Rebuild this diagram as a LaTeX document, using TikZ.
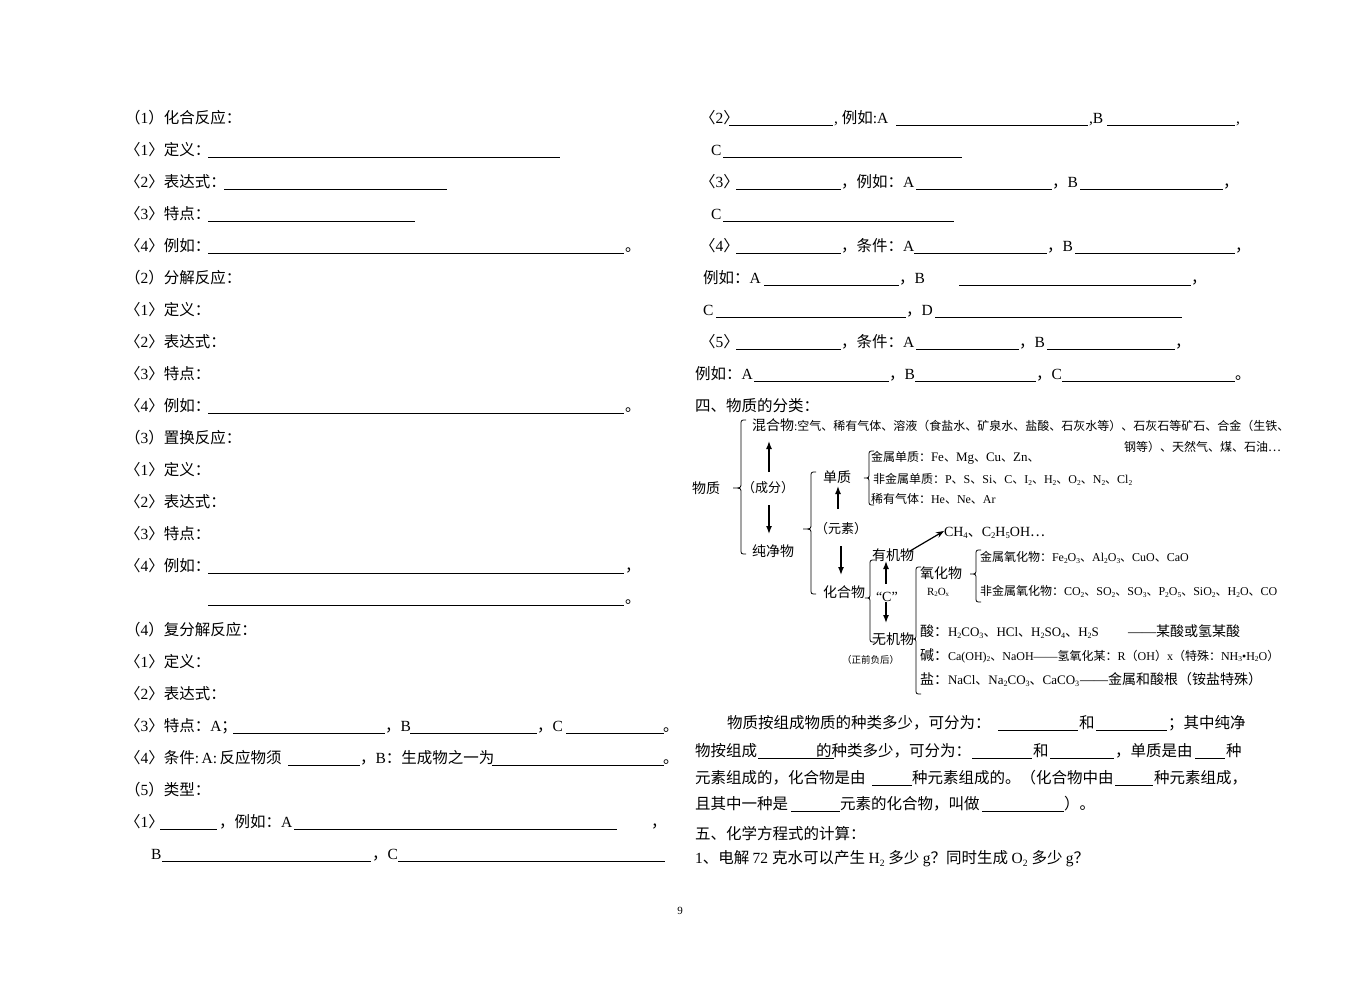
\documentclass[tikz,border=0pt]{standalone}
\usepackage{fontspec}
\usepackage{graphicx}
\setmainfont{Liberation Serif}
\newfontfamily\cjk{Noto Sans CJK SC}
\usetikzlibrary{arrows.meta}
\XeTeXinterchartokenstate=1
\newXeTeXintercharclass\CJKcls
\newcount\mycc
\def\setcls#1#2{\mycc=#1\relax\loop\XeTeXcharclass\mycc=\CJKcls\relax\advance\mycc by 1\relax\ifnum\mycc<#2\relax\repeat}
\setcls{"4E00}{"A000}
\setcls{"3000}{"3040}
\setcls{"FF00}{"FFF0}
\XeTeXcharclass"2026=\CJKcls
\XeTeXinterchartoks 0 \CJKcls = {\cjk}
\XeTeXinterchartoks 4095 \CJKcls = {\cjk}
\XeTeXinterchartoks \CJKcls 0 = {\rmfamily}
\XeTeXinterchartoks 4095 0 = {\rmfamily}
\newcommand\fsz[1]{\fontsize{#1}{#1}\selectfont}
\newcommand\dn[1]{\raisebox{-0.3ex}{\scalebox{0.62}{#1}}}
\newcounter{tn}
\tikzset{
  txt/.style={anchor=base west, inner sep=0pt, outer sep=0pt},
  t155/.style={font=\fsz{15.5}, yshift=-5.9pt},
  t14/.style={font=\fsz{14}, yshift=-5.3pt},
  t13/.style={font=\fsz{13}, yshift=-4.9pt},
  t12/.style={font=\fsz{12}, yshift=-4.5pt},
  t11/.style={font=\fsz{11}, yshift=-4.2pt},
  t10/.style={font=\fsz{9.5}, yshift=-3.6pt},
  ul/.style={line width=0.9pt},
  br/.style={line width=0.8pt},
  arr/.style={line width=1.4pt, -{Latex[length=8pt,width=6pt]}},
  arrd/.style={line width=1.2pt, -{Stealth[length=8pt,width=6pt]}},
}
\newcommand\T[4][t155]{\stepcounter{tn}\node[txt,#1] (t\arabic{tn}) at (#2,#3) {#4};}
\newcommand\U[3]{\draw[ul] (#1,{#3+7}) -- (#2,{#3+7});}
\newcommand\Brace[5]{\draw[br] ({#1+5},#2) .. controls (#1,#2) .. (#1,{#2+5}) -- (#1,{#5-5}) .. controls (#1,#5) .. (#4,#5) .. controls (#1,#5) .. (#1,{#5+5}) -- (#1,{#3-5}) .. controls (#1,#3) .. ({#1+5},#3);}
\begin{document}
\begin{tikzpicture}[x=1pt,y=-1pt]
\useasboundingbox (0,0) rectangle (1361,983);
\fill[white] (0,0) rectangle (1361,983);
% ---------- left column ----------
\T{125}{118}{（1）化合反应：}
\T{125}{150}{〈1〉定义：} \U{208}{560}{150}
\T{125}{182}{〈2〉表达式：} \U{224}{447}{182}
\T{125}{214}{〈3〉特点：} \U{208}{415}{214}
\T{125}{246}{〈4〉例如：} \U{208}{624}{246} \T{625}{246}{。}
\T{125}{278}{（2）分解反应：}
\T{125}{310}{〈1〉定义：}
\T{125}{342}{〈2〉表达式：}
\T{125}{374}{〈3〉特点：}
\T{125}{406}{〈4〉例如：} \U{208}{624}{406} \T{625}{406}{。}
\T{125}{438}{（3）置换反应：}
\T{125}{470}{〈1〉定义：}
\T{125}{502}{〈2〉表达式：}
\T{125}{534}{〈3〉特点：}
\T{125}{566}{〈4〉例如：} \U{208}{624}{566} \T{625}{566}{，}
\U{208}{624}{598} \T{625}{598}{。}
\T{125}{630}{（4）复分解反应：}
\T{125}{662}{〈1〉定义：}
\T{125}{694}{〈2〉表达式：}
\T{125}{726}{〈3〉特点：A；} \U{233}{385}{726} \T{385}{726}{，B} \U{410}{537}{726} \T{537}{726}{，C} \U{566}{664}{726} \T{663}{726}{。}
\T{125}{758}{〈4〉条件:\,A:\,反应物须} \U{288}{360}{758} \T{360}{758}{，B：生成物之一为} \U{492}{664}{758} \T{663}{758}{。}
\T{125}{790}{（5）类型：}
\T{125}{822}{〈1〉} \U{160}{217}{822} \T{219}{822}{，例如：A} \U{294}{617}{822} \T{651}{822}{，}
\T{151}{854}{B} \U{162}{371}{854} \T{372}{854}{，C} \U{398}{665}{854}
% ---------- right column ----------
\T{700}{118}{〈2〉} \U{729}{833}{118} \T{834}{118}{, 例如:A} \U{896}{1088}{118} \T{1089}{118}{,B} \U{1107}{1235}{118} \T{1236}{118}{,}
\T{711}{150}{C} \U{723}{962}{150}
\T{700}{182}{〈3〉} \U{736}{841}{182} \T{841}{182}{，例如：A} \U{916}{1052}{182} \T{1052}{182}{，B} \U{1080}{1223}{182} \T{1223}{182}{，}
\T{711}{214}{C} \U{723}{954}{214}
\T{700}{246}{〈4〉} \U{736}{841}{246} \T{841}{246}{，条件：A} \U{914}{1047}{246} \T{1047}{246}{，B} \U{1075}{1235}{246} \T{1235}{246}{，}
\T{703}{278}{例如：A} \U{764}{899}{278} \T{899}{278}{，B} \U{959}{1191}{278} \T{1191}{278}{，}
\T{703}{310}{C} \U{716}{906}{310} \T{906}{310}{，D} \U{935}{1182}{310}
\T{700}{342}{〈5〉} \U{736}{841}{342} \T{841}{342}{，条件：A} \U{916}{1019}{342} \T{1019}{342}{，B} \U{1047}{1175}{342} \T{1175}{342}{，}
\T{695}{374}{例如：A} \U{754}{889}{374} \T{889}{374}{，B} \U{915}{1036}{374} \T{1036}{374}{，C} \U{1062}{1235}{374} \T{1235}{374}{。}
\T{695}{406}{四、物质的分类：}
% ---------- classification diagram ----------
\T[t12]{752}{426}{{\fsz{14}混合物}:空气、稀有气体、溶液（食盐水、矿泉水、盐酸、石灰水等）、石灰石等矿石、合金（生铁、}
\T[t12]{1124}{447}{钢等）、天然气、煤、石油…}
\T[t14]{692}{488}{物质}
\T[t13]{742}{488}{（成分）}
\T[t14]{752}{551}{纯净物}
\T[t14]{823}{477}{单质}
\T[t13]{815}{529}{（元素）}
\T[t14]{823}{592}{化合物}
\T[t12]{871}{457}{金属单质：{\fsz{13}Fe}、{\fsz{13}Mg}、{\fsz{13}Cu}、{\fsz{13}Zn}、}
\T[t12]{873}{479}{非金属单质：P、S、Si、C、I\dn{2}、H\dn{2}、O\dn{2}、N\dn{2}、Cl\dn{2}}
\T[t12]{871}{499}{稀有气体：He、Ne、Ar}
\T[t14]{944}{531}{CH\dn{4}、C\dn{2}H\dn{5}OH…}
\T[t14]{872}{555}{有机物}
\T[t14]{876}{596}{“C”}
\T[t14]{872}{639}{无机物}
\T[t10]{842}{660}{（正前负后）}
\T[t14]{920}{573}{氧化物}
\T[t11]{927}{591}{R\dn{2}O\dn{x}}
\T[t12]{980}{557}{金属氧化物：Fe\dn{2}O\dn{3}、Al\dn{2}O\dn{3}、CuO、CaO}
\T[t12]{980}{591}{非金属氧化物：CO\dn{2}、SO\dn{2}、SO\dn{3}、P\dn{2}O\dn{5}、SiO\dn{2}、H\dn{2}O、CO}
\T[t14]{920}{631}{酸：{\fsz{13}H\dn{2}CO\dn{3}、HCl、H\dn{2}SO\dn{4}、H\dn{2}S}}
\T[t14]{1128}{631}{——某酸或氢某酸}
\T[t14]{920}{655}{碱：{\fsz{12}Ca(OH)\dn{2}、NaOH——氢氧化某：R（OH）x（特殊：NH\dn{3}•H\dn{2}O）}}
\T[t14]{920}{679}{盐：{\fsz{13}NaCl、Na\dn{2}CO\dn{3}、CaCO\dn{3}}}
\T[t14]{1080}{679}{——金属和酸根（铵盐特殊）}
\Brace{741}{420}{554}{733}{488}
\Brace{811}{472}{594}{803}{529}
\Brace{869}{451}{505}{864}{478}
\Brace{870}{560}{642}{865}{598}
\Brace{976}{550}{602}{970}{574}
\Brace{916}{567}{694}{911}{639}
\coordinate (a1s) at (769,472); \coordinate (a1e) at (769,441);
\coordinate (a2s) at (769,505); \coordinate (a2e) at (769,534);
\coordinate (a3s) at (838,509); \coordinate (a3e) at (838,486);
\coordinate (a4s) at (841,546); \coordinate (a4e) at (841,575);
\coordinate (a5s) at (886,584); \coordinate (a5e) at (886,561);
\coordinate (a6s) at (886,602); \coordinate (a6e) at (886,623);
\coordinate (a7s) at (910,551); \coordinate (a7e) at (944,531);
\draw[arr] (a1s) -- (a1e);
\draw[arr] (a2s) -- (a2e);
\draw[arr] (a3s) -- (a3e);
\draw[arr] (a4s) -- (a4e);
\draw[arr] (a5s) -- (a5e);
\draw[arr] (a6s) -- (a6e);
\draw[arrd] (a7s) -- (a7e);
% ---------- paragraph ----------
\T{727}{723}{物质按组成物质的种类多少，可分为：} \U{998}{1078}{723} \T{1079}{723}{和} \U{1096}{1167}{723} \T{1168}{723}{；其中纯净}
\T{695}{751}{物按组成} \U{758}{834}{751} \T{816}{751}{的种类多少，可分为：} \U{972}{1032}{751} \T{1033}{751}{和} \U{1050}{1114}{751} \T{1115}{751}{，单质是由} \U{1195}{1225}{751} \T{1226}{751}{种}
\T{695}{778}{元素组成的，化合物是由} \U{872}{912}{778} \T{912}{778}{种元素组成的。（化合物中由} \U{1115}{1153}{778} \T{1154}{778}{种元素组成，}
\T{695}{804}{且其中一种是} \U{791}{840}{804} \T{840}{804}{元素的化合物，叫做} \U{982}{1064}{804} \T{1064}{804}{）。}
\T{695}{834}{五、化学方程式的计算：}
\T{695}{858}{1、电解 72 克水可以产生 H\dn{2} 多少 g？同时生成 O\dn{2} 多少 g？}
\node[font=\fsz{11}] (pg) at (680,911) {9};
\end{tikzpicture}
\end{document}
